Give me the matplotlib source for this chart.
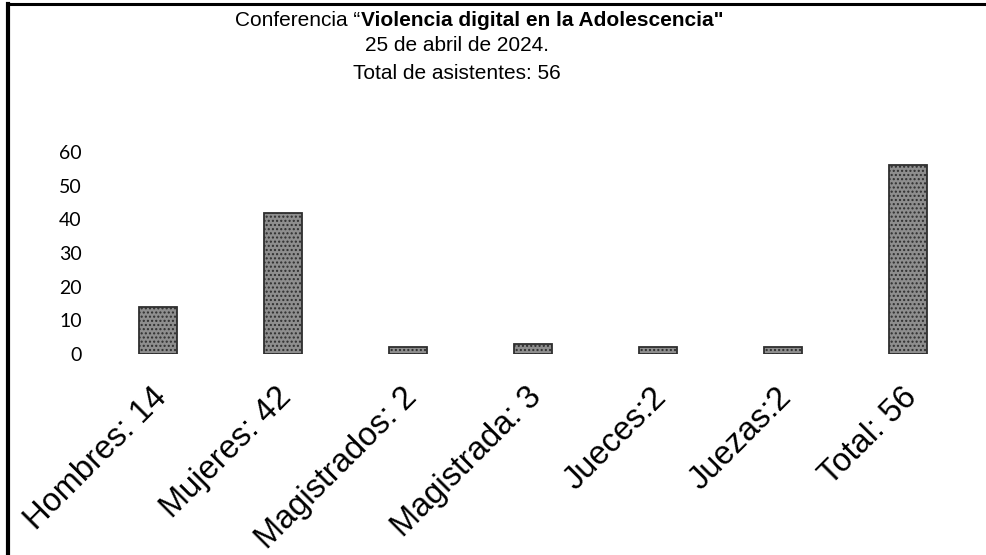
import matplotlib.pyplot as plt
import matplotlib.transforms as mtransforms
from matplotlib.lines import Line2D

# data
categories = ["Hombres: 14", "Mujeres: 42", "Magistrados: 2", "Magistrada: 3",
              "Jueces:2", "Juezas:2", "Total: 56"]
values = [14, 42, 2, 3, 2, 2, 56]
yticks = [0, 10, 20, 30, 40, 50, 60]

fig = plt.figure(figsize=(9.87, 5.55), dpi=100)
ax = fig.add_axes([0.0968, 0.3622, 0.8865, 0.364])

x = list(range(len(categories)))
ax.bar(x, values, width=0.30, color="#8e8e8e", edgecolor="#2e2e2e",
       linewidth=1.3, hatch="....")

ax.set_xlim(-0.5, len(categories) - 0.5)
ax.set_ylim(0, 60)
ax.set_yticks(yticks)
ax.set_yticklabels([str(v) for v in yticks], fontsize=14, family="Lato")
ax.set_xticks(x)
ax.set_xticklabels(categories, rotation=45, ha="right", va="top",
                   rotation_mode="anchor", fontsize=23.5,
                   family="Liberation Sans")
ax.tick_params(axis="both", length=0)
ax.tick_params(axis="y", pad=10)
ax.tick_params(axis="x", pad=17)
for s in ax.spines.values():
    s.set_visible(False)

# labels sit a little left of the bar centres in the original
shift = mtransforms.ScaledTranslation(-7 / 100, -4 / 100, fig.dpi_scale_trans)
for lab in ax.get_xticklabels():
    lab.set_transform(lab.get_transform() + shift)

# title, three lines, second half of first line in bold
fig.text(0.3655, 0.963, "Conferencia \u201c", ha="right", va="center",
         fontsize=15, family="Liberation Sans")
fig.text(0.3655, 0.963, "Violencia digital en la Adolescencia\"",
         ha="left", va="center", fontsize=15, family="Liberation Sans",
         fontweight="bold")
fig.text(0.463, 0.918, "25 de abril de 2024.", ha="center", va="center",
         fontsize=15, family="Liberation Sans")
fig.text(0.463, 0.867, "Total de asistentes: 56", ha="center", va="center",
         fontsize=15, family="Liberation Sans")

# frame lines of the scanned page
fig.add_artist(Line2D([0.008, 1.0], [0.993, 0.993], color="black", lw=2.2,
                      transform=fig.transFigure))
fig.add_artist(Line2D([0.0085, 0.0085], [0.0, 0.993], color="black", lw=3,
                      transform=fig.transFigure))

fig.savefig("out.png", dpi=100)
